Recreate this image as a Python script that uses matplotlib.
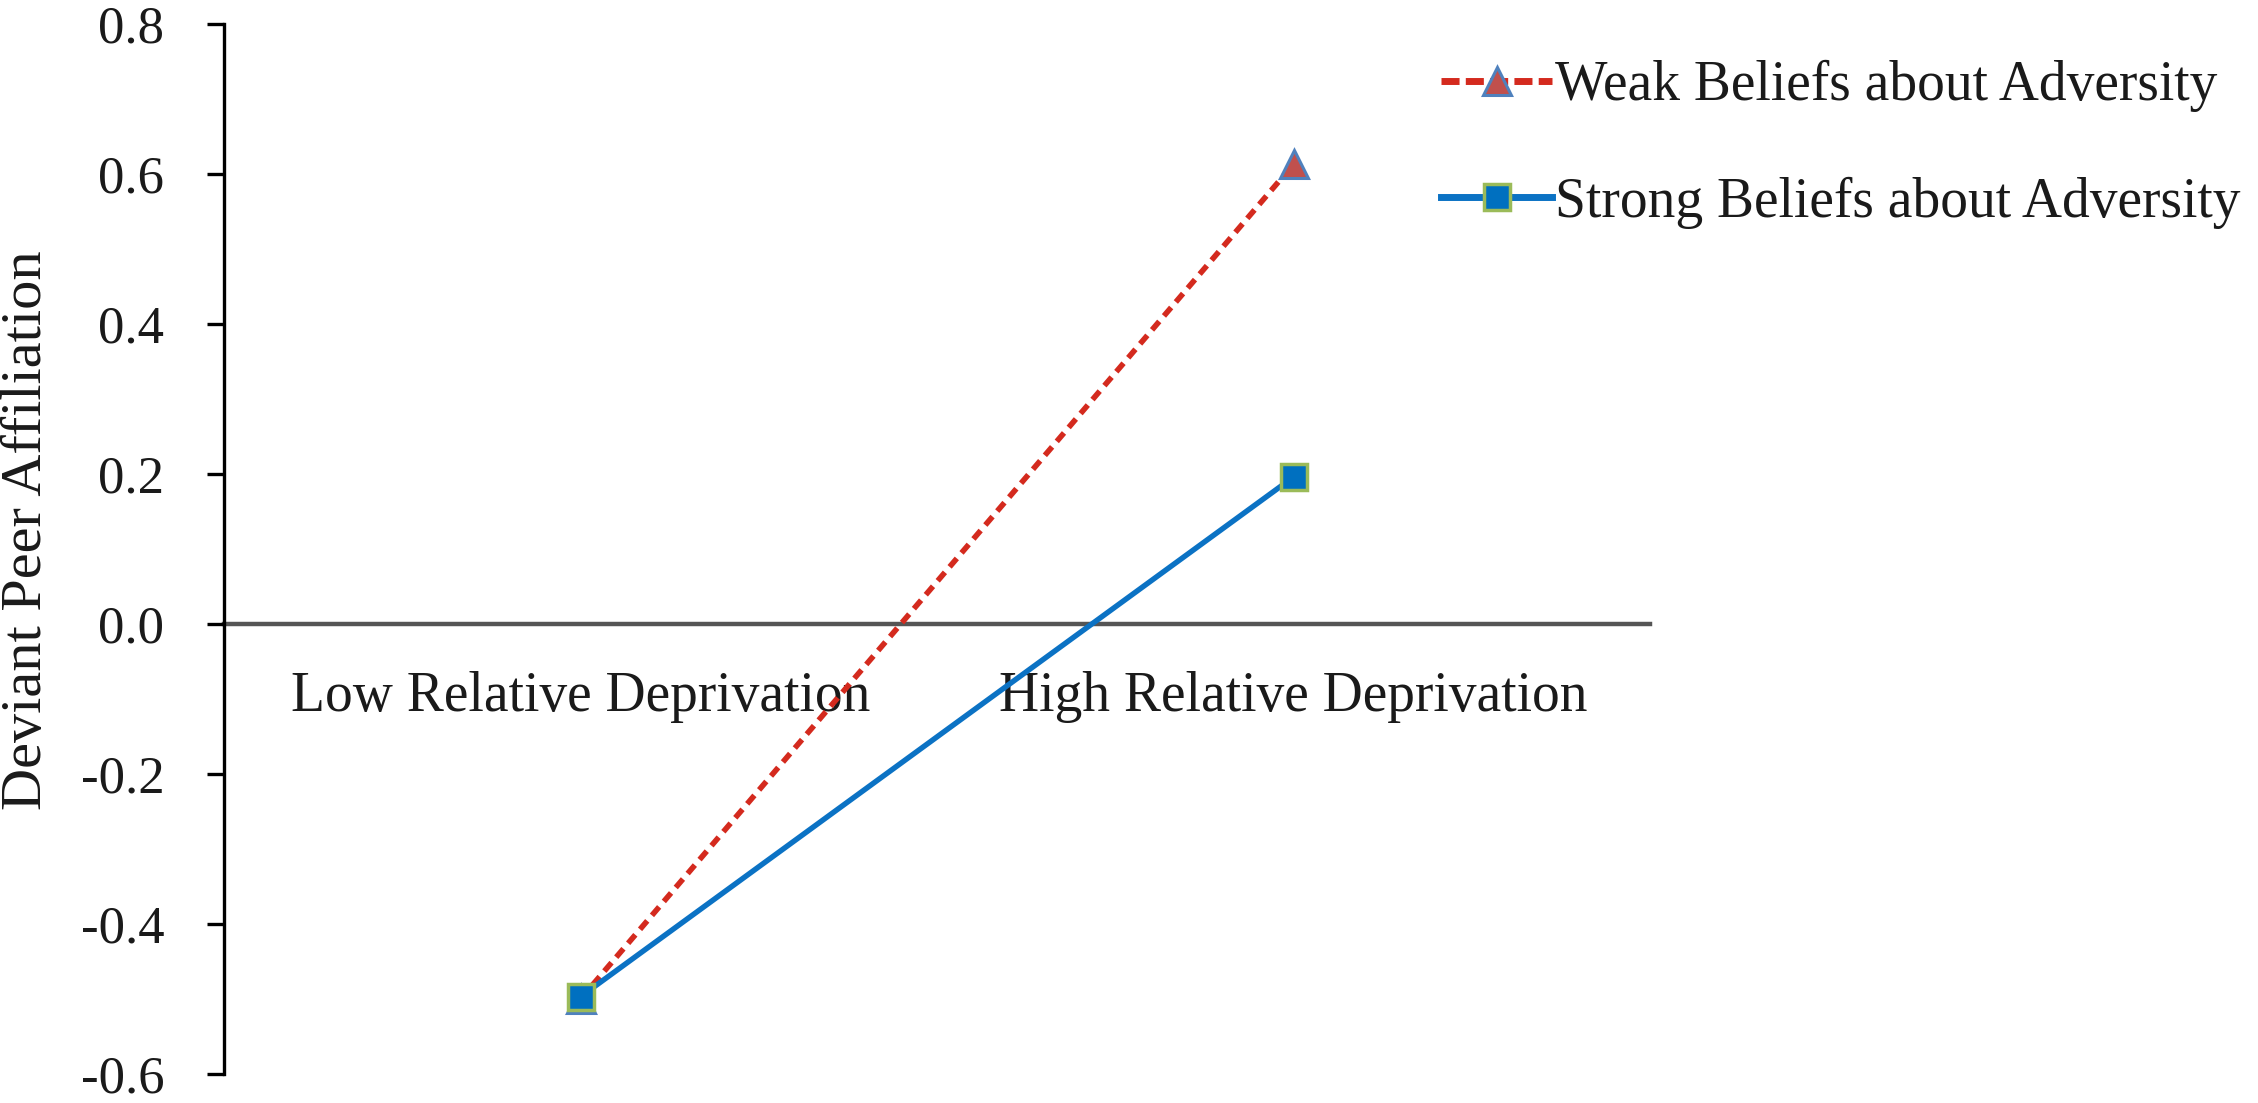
import matplotlib
matplotlib.use("Agg")
import matplotlib.pyplot as plt
from matplotlib.lines import Line2D

categories = ["Low Relative Deprivation", "High Relative Deprivation"]
weak_beliefs = [-0.50, 0.613]
strong_beliefs = [-0.497, 0.196]
series_names = ["Weak Beliefs about Adversity", "Strong Beliefs about Adversity"]
yticks = [-0.6, -0.4, -0.2, 0.0, 0.2, 0.4, 0.6, 0.8]
y_label = "Deviant Peer Affiliation"

plt.rcParams['font.family'] = ['Liberation Serif', 'DejaVu Serif']
FS = 38
CFS = 40
LFS = 40
TXT = '#1a1a1a'

W, H = 2258, 1103
fig = plt.figure(figsize=(W / 100, H / 100), dpi=100)
ax = fig.add_axes([224 / W, 1 - 1074 / H, (1650 - 224) / W, 1050 / H])

red = '#D42A1E'
blue = '#0B72C4'
x = list(range(len(categories)))

ax.spines['bottom'].set_position(('data', 0))
ax.spines['top'].set_visible(False)
ax.spines['right'].set_visible(False)
ax.spines['left'].set_linewidth(2.4)
ax.spines['left'].set_color('black')
ax.spines['bottom'].set_color('#555555')
ax.spines['bottom'].set_linewidth(3.2)
ax.spines['bottom'].set_zorder(1)

ax.plot(x, weak_beliefs, color=red, lw=4.0, dashes=(2.0, 1.3),
        marker='^', ms=20, mfc='#C0504D', mec='#4F81BD', mew=2.2, zorder=3)
ax.plot(x, strong_beliefs, color=blue, lw=3.9,
        marker='s', ms=19, mfc='#0070C0', mec='#9BBB59', mew=2.5, zorder=4)

ax.set_xlim(-0.5, 1.5)
ax.set_ylim(-0.6, 0.8)
ax.set_yticks(yticks)
ax.set_yticklabels([f"{v:.1f}" for v in yticks], fontsize=FS, color=TXT)
ax.set_xticks(x)
ax.set_xticklabels(categories, fontsize=CFS, color=TXT)

ax.tick_params(axis='y', direction='out', length=12, width=2.4, pad=31, colors='black',
               labelcolor=TXT)
ax.tick_params(axis='x', length=0, pad=34, labelcolor=TXT)

fig.text(27 / W, 1 - 530 / H, y_label, fontsize=42, color=TXT, rotation=90,
         ha='center', va='center')

handles = [
    Line2D([], [], color=red, lw=5, dashes=(2.6, 0.9), marker='^', ms=20,
           mfc='#C0504D', mec='#4F81BD', mew=2.2),
    Line2D([], [], color=blue, lw=5, marker='s', ms=19,
           mfc='#0070C0', mec='#9BBB59', mew=2.5),
]
leg = fig.legend(handles, series_names, loc='upper left',
                 bbox_to_anchor=(1441 / W, 1 - 60 / H), frameon=False,
                 fontsize=LFS, handlelength=2.0, handletextpad=0.05,
                 labelspacing=1.16, borderaxespad=0, borderpad=0)
for t in leg.get_texts():
    t.set_color(TXT)

fig.savefig("out.png", dpi=100)
